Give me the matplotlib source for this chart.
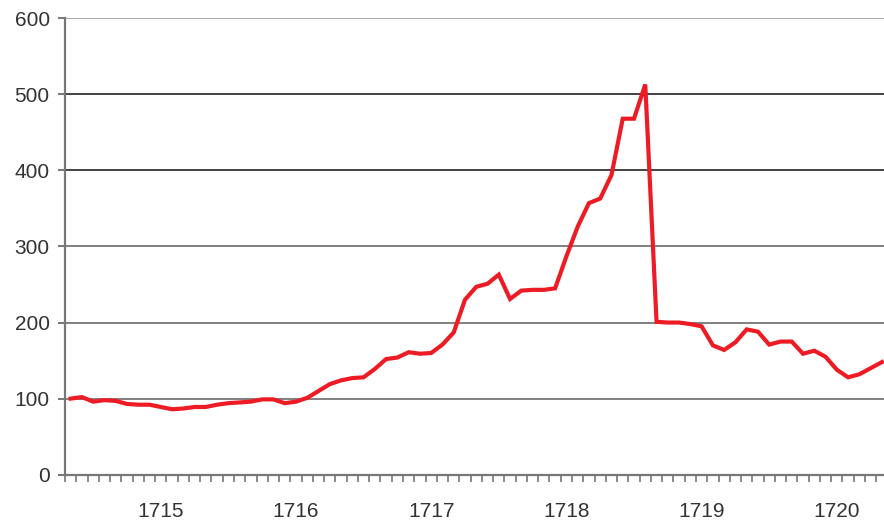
import matplotlib
matplotlib.use("Agg")
import matplotlib.pyplot as plt
import numpy as np
from matplotlib.ticker import FixedLocator, NullFormatter

# Monthly index values, 73 observations (labels placed on every 12th month)
values = [
    100, 102, 96, 98, 97, 93, 92, 92, 89, 86,
    87, 89, 89, 92, 94, 95, 96, 99, 99, 94,
    96, 101, 110, 119, 124, 127, 128, 139, 152, 154,
    161, 159, 160, 171, 187, 230, 247, 251, 263, 231,
    242, 243, 243, 245, 287, 326, 357, 363, 394, 468,
    468, 513, 201, 200, 200, 198, 195, 170, 164, 174,
    191, 188, 171, 175, 175, 159, 163, 155, 138, 128,
    132, 140, 148,
]
year_labels = ["1715", "1716", "1717", "1718", "1719", "1720"]
year_positions = [8, 20, 32, 44, 56, 68]
y_ticks = [0, 100, 200, 300, 400, 500, 600]

plt.rcParams["font.family"] = ["Liberation Sans", "DejaVu Sans"]

fig = plt.figure(figsize=(8.84, 5.23), dpi=100)
ax = fig.add_axes([0.0735, 0.0924, 0.9305, 0.8726])

x = np.arange(len(values))
ax.plot(x, values, color="#ed1c24", linewidth=3.0, solid_joinstyle="miter", zorder=3)

ax.set_xlim(-0.5, len(values) - 0.5)
ax.set_ylim(0, 600)

# y axis
ax.set_yticks(y_ticks)
ax.yaxis.grid(True, color="#808080", linewidth=1.4)
for val, gl in zip(y_ticks, ax.get_ygridlines()):
    if val in (400, 500):
        gl.set_color("#222222")
        gl.set_linewidth(1.2)
    elif val == 600:
        gl.set_color("#aaaaaa")
ax.set_axisbelow(True)

# x axis: year labels without marks, small marks between months
ax.set_xticks(year_positions)
ax.set_xticklabels(year_labels)
ax.xaxis.set_minor_locator(FixedLocator(np.arange(-0.5, len(values) + 0.5, 1.0)))
ax.xaxis.set_minor_formatter(NullFormatter())

ax.tick_params(axis="x", which="major", length=0, pad=20, labelsize=15, labelcolor="#333333")
ax.tick_params(axis="x", which="minor", length=5, width=1.2, color="#777777", direction="out")
ax.tick_params(axis="y", which="major", length=5, width=1.4, color="#777777",
               pad=6, labelsize=15, labelcolor="#333333")

for side in ("top", "right"):
    ax.spines[side].set_visible(False)
for side in ("left", "bottom"):
    ax.spines[side].set_color("#777777")
    ax.spines[side].set_linewidth(1.6)

fig.savefig("out.png", dpi=100)
